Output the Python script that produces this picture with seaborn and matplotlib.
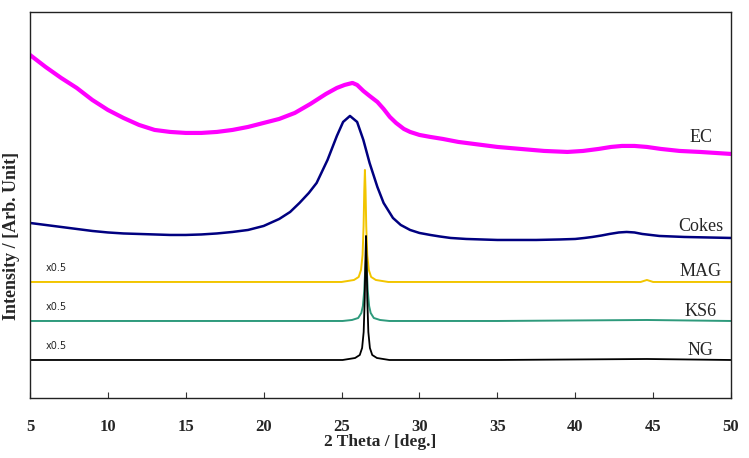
import matplotlib
matplotlib.use("Agg")
import matplotlib.pyplot as plt
import seaborn as sns
import pandas as pd

# ---- data (arbitrary intensity units) ----
ec_x = [5, 6, 7, 8, 9, 10, 11, 12, 13, 14, 15, 16, 17, 18, 19, 20, 21, 22, 23, 24, 24.7, 25.2, 25.7, 26.0, 26.4, 26.8, 27.3, 27.7, 28.1, 28.5, 29.0, 29.4, 30, 30.7, 31.5, 32.5, 33.5, 35, 36.5, 38, 39.5, 40.5, 41.5, 42.3, 43, 43.8, 44.6, 45.5, 46.7, 48, 49, 50]
ec_y = [343, 331, 320, 310, 298, 288, 280, 273, 268, 266, 265, 265, 266, 268, 271, 275, 279, 285, 294, 304, 310, 313, 315, 313, 307, 302, 296, 289, 281, 275, 269, 266, 263, 261, 259, 256, 254, 251, 249, 247, 246, 247, 249, 251, 252, 252, 251, 249, 247, 246, 245, 244]

cokes_x = [5, 6, 7, 8, 9, 10, 11, 12, 13, 14, 15, 16, 17, 18, 19, 20, 21, 21.7, 22.3, 22.9, 23.4, 24.1, 24.7, 25.1, 25.54, 26.0, 26.4, 26.8, 27.3, 27.7, 28.3, 28.8, 29.4, 30, 30.7, 31.3, 32, 33, 35, 37.5, 39, 40, 40.6, 41.1, 41.7, 42.2, 42.8, 43.3, 43.8, 44.3, 45.4, 47, 50]
cokes_y = [175, 173, 171, 169, 167, 165.5, 164.5, 164, 163.5, 163, 163, 163.5, 164.5, 166, 168, 172, 179, 186, 195, 205, 215, 238, 262, 276, 282, 276, 258, 235, 211, 195, 180, 173, 168, 165, 163, 161.5, 160, 159, 158, 158, 158.5, 159, 160, 161, 162.5, 164, 165.5, 166, 165.5, 164, 162, 161, 160]

mag_x = [5, 20, 25.0, 25.8, 26.1, 26.25, 26.35, 26.415, 26.46, 26.5, 26.54, 26.585, 26.65, 26.75, 26.9, 27.2, 28, 35, 44.2, 44.6, 45.0, 50]
mag_y = [116, 116, 116, 118, 121, 128, 143, 172, 208, 228, 208, 172, 143, 128, 121, 118, 116, 116, 116, 118, 116, 116]

ks6_x = [5, 20, 25.07, 25.67, 26.07, 26.27, 26.37, 26.455, 26.51, 26.57, 26.63, 26.685, 26.77, 26.87, 27.07, 27.47, 28.07, 35, 44.6, 50]
ks6_y = [77, 77, 77, 78, 80, 85, 92, 107, 125, 138, 125, 107, 92, 85, 80, 78, 77, 77, 78, 77]

ng_x = [5, 20, 25.07, 25.87, 26.17, 26.32, 26.42, 26.49, 26.53, 26.57, 26.61, 26.65, 26.72, 26.82, 26.97, 27.27, 28.07, 35, 44.6, 50]
ng_y = [38, 38, 38, 40, 43, 50, 66, 100, 137, 162, 137, 100, 66, 50, 43, 40, 38, 38, 39, 38]

series_names = ["EC", "Cokes", "MAG", "KS6", "NG"]
series_colors = ["#FF00FF", "#000080", "#F2C500", "#2E9A7C", "#000000"]
label_pos_y = [260, 171, 126, 86, 47]
scale_labels = ["x0.5", "x0.5", "x0.5"]
scale_pos_y = [130, 91, 52]
xticks = [5, 10, 15, 20, 25, 30, 35, 40, 45, 50]

sns.set_style("white")
plt.rcParams["font.family"] = ["Liberation Serif", "DejaVu Serif"]

fig = plt.figure(figsize=(7.49, 4.58), dpi=100)
ax = fig.add_axes([0.040, 0.131, 0.936, 0.843])

xs = [ec_x, cokes_x, mag_x, ks6_x, ng_x]
ys = [ec_y, cokes_y, mag_y, ks6_y, ng_y]
widths = [3.0, 1.8, 1.4, 1.4, 1.3]
for name, x, y, c, lw in zip(series_names, xs, ys, series_colors, widths):
    df = pd.DataFrame({"x": x, "y": y})
    sns.lineplot(data=df, x="x", y="y", ax=ax, color=c, linewidth=lw,
                 estimator=None, sort=False, solid_joinstyle="round")

for name, ly in zip(series_names, label_pos_y):
    ax.text(48.07, ly, name, ha="center", va="center", fontsize=13,
            family=["Liberation Serif"])
for s, ly in zip(scale_labels, scale_pos_y):
    ax.text(6.0, ly, s, ha="left", va="center", fontsize=7,
            family=["DejaVu Sans"])

ax.set_xlim(5, 50)
ax.set_ylim(0, 386)
ax.set_xticks(xticks)
ax.set_xticklabels([str(t) for t in xticks], fontsize=12, fontweight="bold")
ax.set_yticks([])
ax.tick_params(axis="x", direction="in", length=4, width=0.8, pad=15,
               bottom=True, top=False, color="#333333")
ax.set_xlabel("2 Theta / [deg.]", fontsize=12.5, fontweight="bold")
ax.xaxis.set_label_coords(0.50, -0.092)
ax.set_ylabel("Intensity / [Arb. Unit]", fontsize=13, fontweight="bold")
ax.yaxis.set_label_coords(-0.014, 0.42)
for sp in ax.spines.values():
    sp.set_visible(True)
    sp.set_color("#222222")
    sp.set_linewidth(1.0)

fig.savefig("out.png", dpi=100)
